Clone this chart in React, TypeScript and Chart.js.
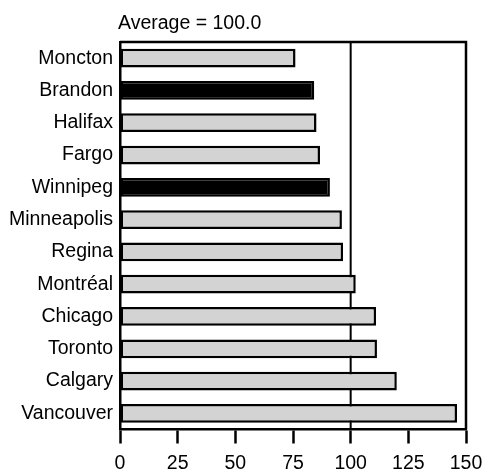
import React, { useEffect, useRef } from "react";
import { Chart, registerables } from "chart.js";

Chart.register(...registerables);

const cities = [
  "Moncton",
  "Brandon",
  "Halifax",
  "Fargo",
  "Winnipeg",
  "Minneapolis",
  "Regina",
  "Montréal",
  "Chicago",
  "Toronto",
  "Calgary",
  "Vancouver",
];
const values = [76.1, 84.2, 85.2, 86.7, 91.0, 96.2, 96.7, 102.2, 111.0, 111.4, 120.0, 146.1];
const highlighted = ["Brandon", "Winnipeg"];
const xTicks = [0, 25, 50, 75, 100, 125, 150];
const averageValue = 100;
const averageLabel = "Average = 100.0";

const FONT = "'Liberation Sans', Arial, sans-serif";

export default function App() {
  const ref = useRef<HTMLCanvasElement | null>(null);

  useEffect(() => {
    document.body.style.margin = "0";
    const canvas = ref.current;
    if (!canvas) return;

    const overlay = {
      id: "overlay",
      beforeDatasetsDraw(chart: any) {
        const { ctx, chartArea, scales } = chart;
        const x = scales.x.getPixelForValue(averageValue);
        ctx.save();
        ctx.strokeStyle = "#000";
        ctx.lineWidth = 2;
        ctx.beginPath();
        ctx.moveTo(x, chartArea.top);
        ctx.lineTo(x, chartArea.bottom);
        ctx.stroke();
        ctx.restore();
      },
      afterDatasetsDraw(chart: any) {
        const { ctx, chartArea } = chart;
        ctx.save();
        ctx.strokeStyle = "#000";
        ctx.lineWidth = 2.5;
        ctx.beginPath();
        ctx.moveTo(chartArea.left, chartArea.top);
        ctx.lineTo(chartArea.right, chartArea.top);
        ctx.lineTo(chartArea.right, chartArea.bottom);
        ctx.stroke();
        ctx.fillStyle = "#000";
        ctx.font = `19.5px ${FONT}`;
        ctx.textAlign = "left";
        ctx.textBaseline = "middle";
        ctx.fillText(averageLabel, chartArea.left - 2, 24);
        ctx.restore();
      },
    };

    const chart = new Chart(canvas, {
      type: "bar",
      data: {
        labels: cities,
        datasets: [
          {
            data: values,
            backgroundColor: cities.map((c) => (highlighted.includes(c) ? "#000000" : "#d3d3d3")),
            borderColor: "#000000",
            borderWidth: 2.5,
            borderSkipped: false,
            barPercentage: 0.58,
            categoryPercentage: 1,
          },
        ],
      },
      options: {
        indexAxis: "y",
        responsive: false,
        animation: false,
        layout: { padding: { top: 42, right: 19, left: 0, bottom: 0 } },
        plugins: {
          legend: { display: false },
          tooltip: { enabled: false },
          title: { display: false },
        },
        scales: {
          x: {
            type: "linear",
            min: 0,
            max: 150,
            afterBuildTicks: (scale: any) => {
              scale.ticks = xTicks.map((v) => ({ value: v }));
            },
            afterFit: (scale: any) => {
              scale.height = 39.5;
              scale.paddingRight = 0;
              scale.paddingLeft = 0;
            },
            grid: {
              drawOnChartArea: false,
              drawTicks: true,
              tickLength: 14,
              tickColor: "#000",
              tickWidth: 2.5,
            },
            border: { display: true, color: "#000", width: 2.5 },
            ticks: {
              color: "#000",
              font: { family: FONT, size: 19.5 },
              padding: 8,
              maxRotation: 0,
            },
          },
          y: {
            afterFit: (scale: any) => {
              scale.width = 120;
            },
            grid: { display: false, drawTicks: false },
            border: { display: true, color: "#000", width: 2.5 },
            ticks: {
              color: "#000",
              font: { family: FONT, size: 19.5 },
              padding: 7,
            },
          },
        },
      },
      plugins: [overlay],
    });

    return () => chart.destroy();
  }, []);

  return <canvas ref={ref} width={485} height={469} style={{ display: "block" }} />;
}
